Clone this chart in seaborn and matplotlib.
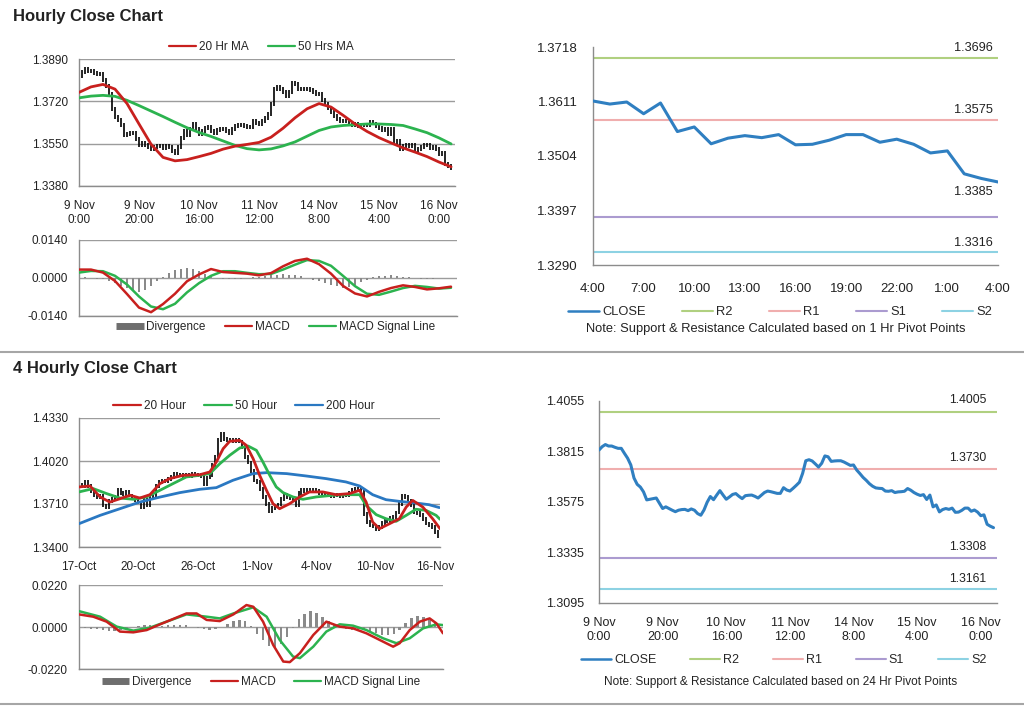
import numpy as np
import matplotlib
matplotlib.use("Agg")
import matplotlib.pyplot as plt
import seaborn as sns
from matplotlib.lines import Line2D
from matplotlib.ticker import FormatStrFormatter

# ---------------- DATA ----------------
# Hourly closes, 9 Nov 0:00 .. 16 Nov 4:00 (one per hour)
close_1h = [
    1.3822, 1.3838, 1.3848, 1.3841, 1.3841, 1.3835, 1.3830, 1.3830, 1.3806, 1.3783,
    1.3751, 1.3689, 1.3659, 1.3646, 1.3623, 1.3585, 1.3588, 1.3591, 1.3594, 1.3569,
    1.3544, 1.3552, 1.3544, 1.3536, 1.3529, 1.3536, 1.3539, 1.3540, 1.3534, 1.3542,
    1.3536, 1.3520, 1.3512, 1.3537, 1.3574, 1.3601, 1.3586, 1.3608, 1.3629, 1.3608,
    1.3588, 1.3599, 1.3611, 1.3615, 1.3602, 1.3591, 1.3605, 1.3607, 1.3608, 1.3602,
    1.3594, 1.3607, 1.3620, 1.3627, 1.3624, 1.3620, 1.3616, 1.3616, 1.3643, 1.3632,
    1.3627, 1.3640, 1.3654, 1.3669, 1.3711, 1.3771, 1.3776, 1.3770, 1.3756, 1.3741,
    1.3759, 1.3794, 1.3790, 1.3768, 1.3770, 1.3771, 1.3771, 1.3765, 1.3757, 1.3749,
    1.3751, 1.3727, 1.3710, 1.3692, 1.3678, 1.3662, 1.3650, 1.3642, 1.3640, 1.3639,
    1.3627, 1.3626, 1.3629, 1.3620, 1.3623, 1.3624, 1.3626, 1.3639, 1.3631, 1.3620,
    1.3612, 1.3606, 1.3610, 1.3587, 1.3608, 1.3552, 1.3561, 1.3528, 1.3539, 1.3544,
    1.3540, 1.3546, 1.3526, 1.3527, 1.3535, 1.3546, 1.3546, 1.3531, 1.3537, 1.3527,
    1.3510, 1.3514, 1.3469, 1.3460, 1.3453]
labels_1h = ["9 Nov\n0:00", "9 Nov\n20:00", "10 Nov\n16:00", "11 Nov\n12:00",
             "14 Nov\n8:00", "15 Nov\n4:00", "16 Nov\n0:00"]

# moving averages / MACD of the hourly chart, read every 4 hours
ma20_1h = [1.3756, 1.3778, 1.3788, 1.3769, 1.3711, 1.3629, 1.3548, 1.3495, 1.3481, 1.3486,
           1.3498, 1.3511, 1.3528, 1.3540, 1.3547, 1.3555, 1.3576, 1.3612, 1.3654, 1.3690,
           1.3711, 1.3697, 1.3664, 1.3629, 1.3599, 1.3574, 1.3553, 1.3533, 1.3516, 1.3498,
           1.3476, 1.3457]
ma50_1h = [1.3734, 1.3741, 1.3744, 1.3740, 1.3724, 1.3703, 1.3681, 1.3659, 1.3636, 1.3614,
           1.3595, 1.3579, 1.3561, 1.3543, 1.3530, 1.3525, 1.3529, 1.3541, 1.3557, 1.3580,
           1.3603, 1.3617, 1.3623, 1.3626, 1.3629, 1.3629, 1.3627, 1.3623, 1.3609, 1.3594,
           1.3573, 1.3549]
macd_1h = [0.0031, 0.0031, 0.0020, -0.0011, -0.0059, -0.0109, -0.0126, -0.0096, -0.0058, -0.0012,
           0.0013, 0.0033, 0.0022, 0.0019, 0.0016, 0.0010, 0.0018, 0.0043, 0.0063, 0.0071,
           0.0051, 0.0016, -0.0029, -0.0057, -0.0068, -0.0051, -0.0037, -0.0027, -0.0033, -0.0042,
           -0.0038, -0.0032]
signal_1h = [0.0020, 0.0026, 0.0025, 0.0008, -0.0024, -0.0068, -0.0105, -0.0115, -0.0095, -0.0053,
             -0.0019, 0.0008, 0.0025, 0.0025, 0.0019, 0.0014, 0.0015, 0.0031, 0.0049, 0.0066,
             0.0063, 0.0045, 0.0008, -0.0030, -0.0058, -0.0062, -0.0050, -0.0037, -0.0029, -0.0033,
             -0.0039, -0.0036]
# divergence, read every 2 hours
div_1h = [0.0002, 0.0002, 0.0001, -0.0002, -0.0005,
          -0.0010, -0.0018, -0.0028, -0.0038, -0.0046,
          -0.0050, -0.0045, -0.0030, -0.0012, 0.0005,
          0.0018, 0.0028, 0.0035, 0.0037, 0.0033,
          0.0025, 0.0015, 0.0006, 0.0000, -0.0004,
          -0.0005, -0.0003, -0.0002, -0.0001, 0.0002,
          0.0005, 0.0008, 0.0010, 0.0012, 0.0013,
          0.0012, 0.0010, 0.0006, 0.0001, -0.0006,
          -0.0012, -0.0018, -0.0025, -0.0031, -0.0035,
          -0.0034, -0.0026, -0.0015, -0.0006, 0.0002,
          0.0006, 0.0009, 0.0010, 0.0008, 0.0005,
          0.0002, -0.0001, -0.0002, -0.0003, -0.0002,
          0.0000, 0.0001, 0.0001]

# 1 Hr pivot chart (last 25 hourly closes)
labels_pivot1 = ["4:00", "7:00", "10:00", "13:00", "16:00", "19:00", "22:00", "1:00", "4:00"]
levels_1h = {"R2": 1.3696, "R1": 1.3575, "S1": 1.3385, "S2": 1.3316}
levels_24h = {"R2": 1.4005, "R1": 1.3730, "S1": 1.3308, "S2": 1.3161}

# 4-hourly closes, 17 Oct .. 16 Nov
close_4h = [
    1.3850, 1.3835, 1.3870, 1.3840, 1.3800, 1.3775, 1.3760, 1.3770, 1.3700, 1.3690,
    1.3730, 1.3745, 1.3760, 1.3810, 1.3790, 1.3780, 1.3795, 1.3770, 1.3750, 1.3735,
    1.3720, 1.3690, 1.3740, 1.3700, 1.3755, 1.3765, 1.3840, 1.3870, 1.3880, 1.3875,
    1.3890, 1.3905, 1.3930, 1.3915, 1.3920, 1.3910, 1.3918, 1.3912, 1.3925, 1.3915,
    1.3920, 1.3910, 1.3855, 1.3900, 1.3920, 1.3990, 1.4050, 1.4170, 1.4215, 1.4180,
    1.4170, 1.4175, 1.4165, 1.4170, 1.4160, 1.4120, 1.4050, 1.4010, 1.3950, 1.3880,
    1.3870, 1.3820, 1.3760, 1.3710, 1.3655, 1.3680, 1.3700, 1.3705, 1.3745, 1.3775,
    1.3760, 1.3750, 1.3745, 1.3700, 1.3790, 1.3810, 1.3805, 1.3815, 1.3800, 1.3810,
    1.3805, 1.3790, 1.3780, 1.3770, 1.3775, 1.3765, 1.3770, 1.3775, 1.3765, 1.3770,
    1.3775, 1.3790, 1.3815, 1.3820, 1.3815, 1.3795, 1.3640, 1.3580, 1.3555, 1.3550,
    1.3525, 1.3545, 1.3575, 1.3590, 1.3585, 1.3610, 1.3615, 1.3650, 1.3710, 1.3770,
    1.3760, 1.3735, 1.3700, 1.3650, 1.3645, 1.3630, 1.3600, 1.3570, 1.3560, 1.3545,
    1.3510, 1.3480]
labels_4h = ["17-Oct", "20-Oct", "26-Oct", "1-Nov", "4-Nov", "10-Nov", "16-Nov"]

ma20_4h_x = [0, 3.7, 7.1, 10.4, 13.8, 17.2, 20.5, 23.9, 27.3, 30.6, 35.1, 40.7, 44.1, 46.3, 48.6,
             50.8, 54.2, 56.4, 58.7, 60.9, 63.2, 65.4, 67.6, 71, 74.4, 77.7, 82.2, 86.7, 91.2,
             94.6, 96.8, 99, 101.3, 104.7, 108, 110.3, 112.5, 115.9, 119.2, 121.7]
ma20_4h = [1.3833, 1.3840, 1.3761, 1.3724, 1.3748, 1.3773, 1.3753, 1.3777, 1.3857, 1.3893,
           1.3917, 1.3921, 1.3941, 1.4013, 1.4109, 1.4162, 1.4169, 1.4133, 1.4037, 1.3917,
           1.3809, 1.3712, 1.3676, 1.3712, 1.3761, 1.3797, 1.3797, 1.3777, 1.3785, 1.3809,
           1.3724, 1.3580, 1.3532, 1.3568, 1.3604, 1.3688, 1.3736, 1.3688, 1.3604, 1.3532]
ma50_4h_x = [0, 4.8, 9.3, 13.8, 18.3, 22.8, 27.3, 31.7, 36.2, 40.7, 44.1, 47.5, 50.8, 54.2, 57,
             59.8, 62, 64.3, 66.5, 68.8, 72.1, 75.5, 80, 85.6, 91.2, 94.6, 96.8, 100.2, 103.5,
             106.9, 110.3, 113.6, 117, 120.4, 121.7]
ma50_4h = [1.3797, 1.3821, 1.3785, 1.3753, 1.3744, 1.3761, 1.3809, 1.3857, 1.3905, 1.3917,
           1.3929, 1.4001, 1.4061, 1.4114, 1.4128, 1.4097, 1.4013, 1.3917, 1.3833, 1.3792,
           1.3761, 1.3744, 1.3761, 1.3773, 1.3777, 1.3777, 1.3700, 1.3633, 1.3604, 1.3585,
           1.3628, 1.3672, 1.3664, 1.3628, 1.3600]
ma200_4h_x = [0, 7.1, 13.8, 20.5, 27.3, 34, 40.7, 46.3, 51.9, 58.7, 63.2, 70, 76.6, 83.3, 90,
              94.6, 99, 103.5, 108, 113.6, 118, 121.5]
ma200_4h = [1.3568, 1.3628, 1.3676, 1.3724, 1.3760, 1.3792, 1.3816, 1.3828, 1.3881, 1.3929,
            1.3936, 1.3929, 1.3912, 1.3893, 1.3869, 1.3840, 1.3777, 1.3741, 1.3729, 1.3717,
            1.3705, 1.3684]

macd_4h_x = [0, 4.8, 9.3, 13.8, 18.3, 22.8, 27.3, 31.7, 36.2, 39.6, 43, 47.4, 52, 56.4, 58.7,
             62, 65.4, 68.8, 71, 74.4, 78.9, 83.3, 87.8, 92.3, 96.8, 101.3, 105.8, 108, 111.4,
             114.8, 118.1, 120.4, 122.6]
macd_4h = [0.0066, 0.0054, 0.0028, -0.0024, -0.0028, -0.0016, 0.0014, 0.0042, 0.0071, 0.0071,
           0.0037, 0.0031, 0.0066, 0.0115, 0.0106, 0.0028, -0.0094, -0.0181, -0.0184, -0.0137,
           -0.0042, 0.0028, 0.0002, -0.0007, -0.0033, -0.0068, -0.0103, -0.0085, -0.0016, 0.0028,
           0.0045, 0.0019, -0.0033]
signal_4h_x = [0, 7.1, 12.7, 18.3, 23.9, 29.5, 36.2, 43, 47.4, 52, 58.7, 63.2, 67.6, 72.1, 74.4,
               78.9, 83.3, 87.8, 92.3, 96.8, 102.4, 106.9, 111.4, 115.9, 120.4, 122.6]
signal_4h = [0.0083, 0.0054, 0.0002, -0.0019, -0.0003, 0.0028, 0.0066, 0.0054, 0.0045, 0.0071,
             0.0103, 0.0054, -0.0068, -0.0155, -0.0163, -0.0103, -0.0024, 0.0014, 0.0007, -0.0016,
             -0.0059, -0.0085, -0.0059, -0.0007, 0.0014, 0.0010]
div_4h = [-0.0005, -0.0006, -0.0008, -0.0012, -0.0018,
          -0.0022, -0.0023, -0.0018, -0.0008, 0.0000,
          0.0006, 0.0012, 0.0010, 0.0004, 0.0006,
          0.0010, 0.0012, 0.0012, 0.0008, 0.0002,
          -0.0006, -0.0012, -0.0014, -0.0010, 0.0002,
          0.0018, 0.0032, 0.0039, 0.0030, 0.0005,
          -0.0035, -0.0070, -0.0098, -0.0110, -0.0090,
          -0.0050, -0.0005, 0.0040, 0.0070, 0.0083,
          0.0075, 0.0055, 0.0030, 0.0010, -0.0005,
          -0.0012, -0.0014, -0.0008, -0.0010, -0.0020,
          -0.0032, -0.0040, -0.0042, -0.0035, -0.0015,
          0.0020, 0.0048, 0.0056, 0.0050, 0.0038,
          0.0020]

# ---------------- STYLE ----------------
sns.set_style("white")
plt.rcParams["font.family"] = ["Liberation Sans", "DejaVu Sans"]
plt.rcParams["axes.unicode_minus"] = False

RED = "#c8201e"
GREEN = "#2cb34f"
BLUE = "#2a78c2"
CLOSE_C = "#2f7fc1"
GRAY = "#8a8a8a"
LVL_C = {"R2": "#b0d080", "R1": "#f0aeae", "S1": "#ab9bd0", "S2": "#8dd2e3"}
TXT = "#222222"

W, H = 1024, 706
fig = plt.figure(figsize=(W / 100, H / 100), dpi=100)


def box(l, t, r, b):
    return [l / W, 1 - b / H, (r - l) / W, (b - t) / H]


def style(ax, grid=True, ypad=5, xpad=7, size=8.5):
    for s in ["top", "right"]:
        ax.spines[s].set_visible(False)
    for s in ["left", "bottom"]:
        ax.spines[s].set_color("#8c8c8c")
        ax.spines[s].set_linewidth(1.0)
    ax.tick_params(axis="both", labelsize=size, colors=TXT, color="#8c8c8c", length=3)
    ax.tick_params(axis="x", pad=xpad)
    ax.tick_params(axis="y", pad=ypad)
    if grid:
        ax.yaxis.grid(True, color="#9c9c9c", lw=1.0)
    ax.set_axisbelow(True)
    ax.set_xlabel("")
    ax.set_ylabel("")


def bars(ax, close, wick):
    c = np.asarray(close)
    prev = np.concatenate([[c[0]], c[:-1]])
    x = np.arange(len(c))
    ax.vlines(x, np.minimum(c, prev) - wick, np.maximum(c, prev) + wick,
              color="black", lw=1.2, zorder=2)


def line(ax, x, y, color, lw=1.8, z=3):
    sns.lineplot(x=x, y=y, ax=ax, color=color, linewidth=lw, zorder=z, legend=False)


LEG = dict(frameon=False, fontsize=8.5, handlelength=2.3, handletextpad=0.25,
           columnspacing=1.6, borderaxespad=0, loc="center")


def macd_panel(ax, div_x, div, mx, m, sx, s, lim, xmax):
    ax.bar(div_x, div, width=0.8, color=GRAY, linewidth=0, zorder=2)
    line(ax, mx, m, RED, 1.8, 4)
    line(ax, sx, s, GREEN, 1.8, 3)
    ax.set_ylim(-lim, lim)
    ax.set_xlim(0, xmax)
    ax.set_yticks([lim, 0, -lim])
    ax.yaxis.set_major_formatter(FormatStrFormatter("%.4f"))
    style(ax)
    ax.set_xticks([])
    handles = [Line2D([], [], color="#6e6e6e", lw=5, solid_capstyle="butt"),
               Line2D([], [], color=RED, lw=1.6),
               Line2D([], [], color=GREEN, lw=1.6)]
    return handles


def pivot_panel(ax, x, close, levels, ylim, yticks, xticks, xlabels, xmax, label_off,
                tsize, xpad, lsize, lx, legsize, legspace):
    for k in ["R2", "R1", "S1", "S2"]:
        ax.axhline(levels[k], color=LVL_C[k], lw=1.5, zorder=2)
    line(ax, x, close, CLOSE_C, 2.2, 4)
    ax.set_ylim(*ylim)
    ax.set_xlim(0, xmax)
    ax.set_yticks(yticks)
    ax.yaxis.set_major_formatter(FormatStrFormatter("%.4f"))
    ax.set_xticks(xticks)
    ax.set_xticklabels(xlabels)
    style(ax, grid=False, ypad=8, xpad=xpad, size=tsize)
    for k in ["R2", "R1", "S1", "S2"]:
        ax.annotate(f"{levels[k]:.4f}", xy=(1.0, levels[k]), xycoords=("axes fraction", "data"),
                    xytext=(lx, label_off[k]), textcoords="offset pixels",
                    ha="right", va="center", fontsize=lsize, color=TXT)
    handles = [Line2D([], [], color=CLOSE_C, lw=1.8)] + \
              [Line2D([], [], color=LVL_C[k], lw=1.5) for k in ["R2", "R1", "S1", "S2"]]
    ax.legend(handles, ["CLOSE", "R2", "R1", "S1", "S2"], ncol=5, frameon=False,
              fontsize=legsize, handlelength=2.4, handletextpad=0.25, columnspacing=legspace,
              borderaxespad=0, loc="center")


# ---------------- HOURLY: price ----------------
ax1 = fig.add_axes(box(79, 59, 455, 186))
bars(ax1, close_1h, 0.0008)
h4 = np.arange(0, len(close_1h), 4)
line(ax1, h4, ma20_1h, RED, 2.0, 4)
line(ax1, h4, ma50_1h, GREEN, 2.0, 3)
ax1.set_ylim(1.3380, 1.3890)
ax1.set_yticks([1.3890, 1.3720, 1.3550, 1.3380])
ax1.yaxis.set_major_formatter(FormatStrFormatter("%.4f"))
ax1.set_xlim(0, 125.3)
ax1.set_xticks(np.arange(0, 121, 20))
ax1.set_xticklabels(labels_1h)
style(ax1)
ax1.legend([Line2D([], [], color=RED, lw=1.6), Line2D([], [], color=GREEN, lw=1.6)],
           ["20 Hr MA", "50 Hrs MA"], bbox_to_anchor=(0.485, 1.095), ncol=2, **LEG)

# ---------------- HOURLY: MACD ----------------
ax2 = fig.add_axes(box(79, 240, 457, 316))
hd = macd_panel(ax2, np.arange(0, len(close_1h), 2), div_1h, h4, macd_1h, h4, signal_1h,
                0.0140, 126)
ax2.legend(hd, ["Divergence", "MACD", "MACD Signal Line"],
           bbox_to_anchor=(0.52, -0.15), ncol=3, **LEG)

# ---------------- HOURLY: 1 Hr pivot ----------------
ax3 = fig.add_axes(box(593, 47, 998, 265))
last = close_1h[-25:]
pivot_panel(ax3, np.arange(len(last)), last, levels_1h, (1.3290, 1.3718),
            [1.3718, 1.3611, 1.3504, 1.3397, 1.3290], np.arange(0, 25, 3), labels_pivot1, 24,
            {"R2": 10, "R1": 10, "S1": 25, "S2": 9}, 9.5, 10, 9.2, -5, 9.3, 2.8)
ax3.get_legend().set_bbox_to_anchor((0.462, -0.216))
fig.text(776 / W, 1 - 329 / H, "Note: Support & Resistance Calculated based on 1 Hr Pivot Points",
         ha="center", va="center", fontsize=9.3, color=TXT)

# ---------------- 4 HOURLY: price ----------------
ax4 = fig.add_axes(box(79, 418, 440, 547))
bars(ax4, close_4h, 0.0013)
line(ax4, ma200_4h_x, ma200_4h, BLUE, 2.0, 3)
line(ax4, ma50_4h_x, ma50_4h, GREEN, 2.0, 4)
line(ax4, ma20_4h_x, ma20_4h, RED, 2.0, 5)
ax4.set_ylim(1.3400, 1.4330)
ax4.set_yticks([1.4330, 1.4020, 1.3710, 1.3400])
ax4.yaxis.set_major_formatter(FormatStrFormatter("%.4f"))
ax4.set_xlim(0, 121.7)
ax4.set_xticks(np.arange(0, 121, 20))
ax4.set_xticklabels(labels_4h)
style(ax4)
ax4.legend([Line2D([], [], color=RED, lw=1.6), Line2D([], [], color=GREEN, lw=1.6),
            Line2D([], [], color=BLUE, lw=1.6)],
           ["20 Hour", "50 Hour", "200 Hour"], bbox_to_anchor=(0.456, 1.09), ncol=3,
           **{**LEG, "columnspacing": 1.5, "handlelength": 2.4})

# ---------------- 4 HOURLY: MACD ----------------
ax5 = fig.add_axes(box(79, 585, 443, 669))
hd = macd_panel(ax5, np.arange(0, len(close_4h), 2)[:len(div_4h)], div_4h,
                macd_4h_x, macd_4h, signal_4h_x, signal_4h, 0.0220, 122.6)
ax5.legend(hd, ["Divergence", "MACD", "MACD Signal Line"],
           bbox_to_anchor=(0.501, -0.155), ncol=3, **LEG)

# ---------------- 4 HOURLY: 24 Hr pivot ----------------
ax6 = fig.add_axes(box(599, 401, 997, 603))
pivot_panel(ax6, np.arange(len(close_1h)), close_1h, levels_24h, (1.3095, 1.4055),
            [1.4055, 1.3815, 1.3575, 1.3335, 1.3095], np.arange(0, 121, 20), labels_1h, 125.1,
            {"R2": 12, "R1": 11, "S1": 11, "S2": 10}, 9.0, 7, 8.8, -11, 9.0, 2.7)
ax6.get_legend().set_bbox_to_anchor((0.464, -0.282))
fig.text(781 / W, 1 - 682 / H, "Note: Support & Resistance Calculated based on 24 Hr Pivot Points",
         ha="center", va="center", fontsize=8.5, color=TXT)

# ---------------- titles & separators ----------------
fig.text(13 / W, 1 - 16 / H, "Hourly Close Chart", fontsize=12, fontweight="bold",
         va="center", ha="left", color=TXT)
fig.text(13 / W, 1 - 369 / H, "4 Hourly Close Chart", fontsize=12, fontweight="bold",
         va="center", ha="left", color=TXT)
for yy in (352, 704):
    fig.add_artist(Line2D([0, 1], [1 - yy / H] * 2, color="#a6a6a6", lw=1.5,
                          transform=fig.transFigure))

fig.savefig("out.png", dpi=100)
